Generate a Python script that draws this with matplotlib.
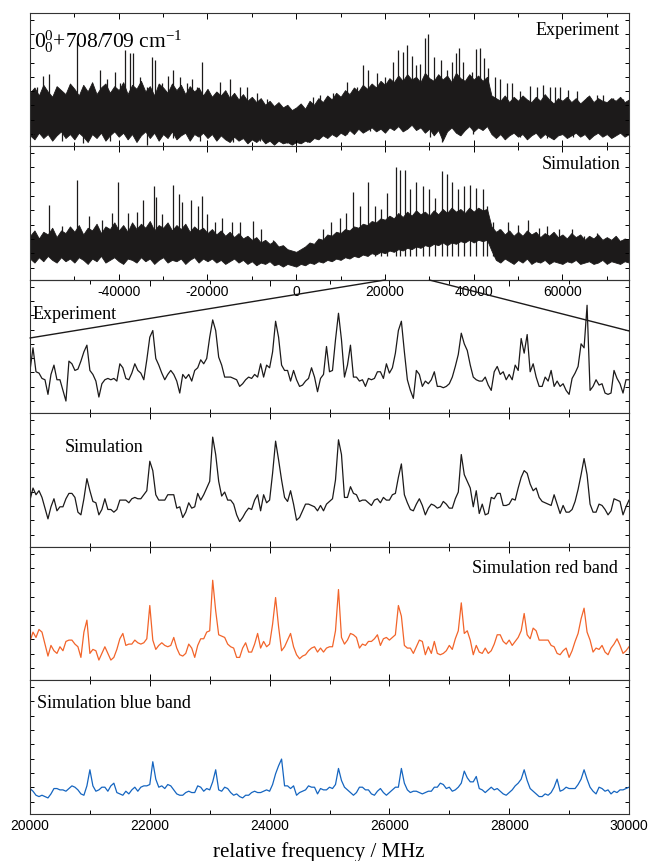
# stacked rotational spectrum: full band (top) and 20-30 GHz zoom (bottom)
import numpy as np
import matplotlib
matplotlib.use("Agg")
import matplotlib.pyplot as plt
from matplotlib.ticker import MultipleLocator, FixedLocator
from matplotlib.patches import ConnectionPatch

plt.rcParams["font.family"] = "Liberation Sans"
plt.rcParams["axes.unicode_minus"] = False
plt.rcParams["mathtext.fontset"] = "custom"
plt.rcParams["mathtext.rm"] = "Liberation Serif"
plt.rcParams["mathtext.it"] = "Liberation Serif:italic"

# ---- full band, 1000 MHz steps from -60000 to 75000: ragged top/bottom of the dense band ----
band_x = list(range(-60000, 75001, 1000))
exp_band_hi = [40, 44, 38, 46, 41, 37, 45, 42, 39, 47,
               43, 38, 46, 41, 48, 39, 44, 47, 40, 45,
               42, 48, 39, 46, 43, 49, 41, 45, 38, 47,
               44, 40, 47, 42, 46, 39, 45, 41, 44, 38,
               43, 37, 41, 38, 42, 36, 40, 35, 39, 34,
               37, 33, 36, 31, 34, 30, 33, 29, 31, 27,
               29, 32, 28, 34, 31, 36, 33, 38, 35, 40,
               37, 42, 39, 44, 41, 46, 43, 47, 44, 49,
               46, 51, 48, 53, 49, 54, 50, 52, 48, 55,
               51, 49, 54, 50, 53, 48, 55, 51, 49, 54,
               50, 53, 49, 52, 38, 36, 34, 38, 33, 37,
               34, 38, 35, 33, 37, 34, 39, 35, 32, 36,
               34, 37, 33, 36, 32, 35, 38, 33, 36, 34,
               33, 36, 34, 37, 33, 35]
exp_band_lo = [8, 5, 10, 6, 9, 4, 8, 11, 6, 9,
               5, 10, 7, 3, 9, 6, 10, 4, 8, 11,
               7, 10, 5, 9, 3, 8, 11, 6, 10, 4,
               9, 6, 11, 5, 8, 10, 4, 9, 7, 10,
               6, 9, 4, 8, 5, 3, 7, 4, 6, 2,
               5, 3, 6, 2, 4, 1, 4, 2, 3, 1,
               3, 2, 4, 3, 6, 5, 8, 6, 9, 7,
               10, 8, 12, 9, 13, 10, 12, 14, 11, 13,
               10, 14, 12, 15, 11, 13, 16, 12, 14, 10,
               13, 8, 12, 4, 11, 14, 10, 8, 12, 15,
               11, 14, 12, 15, 9, 6, 9, 5, 8, 10,
               7, 9, 5, 8, 10, 6, 9, 7, 5, 8,
               9, 6, 8, 10, 7, 9, 5, 8, 10, 7,
               9, 6, 8, 10, 7, 9]
sim_band_hi = [33, 37, 31, 36, 34, 39, 32, 37, 35, 40,
               36, 41, 34, 39, 37, 42, 35, 40, 38, 43,
               37, 41, 36, 43, 38, 42, 39, 44, 37, 41,
               39, 43, 37, 41, 38, 42, 36, 40, 37, 39,
               35, 38, 34, 37, 33, 36, 32, 35, 31, 33,
               30, 32, 28, 30, 27, 29, 25, 26, 23, 22,
               21, 23, 25, 28, 27, 31, 30, 34, 33, 36,
               35, 38, 37, 40, 39, 42, 41, 44, 43, 46,
               45, 48, 46, 50, 47, 51, 48, 52, 49, 51,
               48, 52, 49, 53, 50, 54, 51, 53, 50, 54,
               51, 54, 52, 53, 40, 36, 38, 34, 37, 33,
               36, 33, 37, 34, 36, 32, 35, 33, 36, 32,
               34, 31, 35, 32, 34, 30, 33, 31, 34, 30,
               32, 30, 33, 29, 31, 30]
sim_band_lo = [16, 13, 17, 14, 18, 15, 13, 17, 14, 16,
               13, 17, 15, 12, 16, 14, 18, 13, 15, 17,
               14, 12, 16, 15, 13, 17, 14, 16, 12, 15,
               17, 13, 15, 14, 16, 12, 15, 17, 13, 16,
               14, 16, 13, 15, 12, 14, 16, 13, 15, 12,
               14, 11, 13, 12, 14, 11, 12, 10, 12, 11,
               10, 12, 11, 13, 12, 14, 13, 15, 14, 16,
               15, 17, 16, 18, 17, 19, 18, 20, 19, 21,
               20, 22, 21, 23, 22, 24, 23, 25, 24, 26,
               25, 27, 26, 28, 26, 28, 27, 29, 28, 30,
               28, 30, 29, 30, 22, 15, 13, 16, 14, 12,
               15, 13, 16, 12, 14, 13, 15, 12, 14, 13,
               12, 14, 13, 15, 12, 13, 14, 12, 13, 15,
               12, 14, 13, 12, 14, 13]

# strongest single lines above the band
exp_spk_x = [-58400, -57070, -55720, -53910, -51660, -49400, -46480, -44220, -42640, -40840,
             -39710, -38590, -37460, -36780, -35210, -33630, -32500, -31820, -30250, -28890,
             -27770, -26190, -24610, -23490, -22360, -21230, -20100, -17170, -14920, -12670,
             -11090, -8830, -6580, -3650, -720, 3790, 5370, 8300, 11450, 13710,
             15060, 16190, 18210, 20020, 21820, 22950, 24070, 24980, 26100, 27000,
             27910, 29030, 29710, 31060, 32640, 33990, 35120, 36020, 36700, 37600,
             39630, 40530, 41430, 42330, 43230, 44810, 45940, 47520, 48640, 50450,
             52700, 54280, 55630, 57210, 58340, 59460, 61270, 63290, 65550, 67800,
             69150, 71410, 73660]
exp_spk_top = [44, 53, 54, 44, 40, 78, 37, 57, 50, 56, 47, 72, 70, 70, 52, 44, 67, 65, 47, 53,
               57, 52, 47, 50, 44, 63, 42, 48, 50, 44, 44, 40, 35, 29, 25, 37, 38, 40, 48, 44,
               61, 57, 55, 52, 63, 72, 71, 76, 68, 61, 62, 81, 84, 67, 65, 57, 63, 70, 74, 63,
               56, 73, 74, 66, 59, 52, 50, 47, 47, 41, 45, 44, 46, 44, 44, 44, 42, 41, 37, 38,
               38, 36, 35]
exp_dip_x = [-59250, -52860, -47990, -41970, -33700, -27700, -21680, -14170, -8160, -2140,
             2370, 11380, 16640, 20400, 30160, 32790, 36920, 39920, 45190, 50450,
             56460, 62460, 66970, 71480, 74120]
exp_dip_y = [7, 4, 2, 4, 1, 6, 4, 3, 4, 2, 3, 9, 11, 12, 7, 3, 8, 9, 7, 7, 6, 7, 8, 7, 9]

sim_spk_x = [-55740, -52760, -49490, -46690, -43880, -41550, -40150, -37820, -35950, -34550,
             -32030, -31650, -30340, -27730, -26420, -25670, -23620, -22130, -21300, -20080,
             -18210, -16810, -14470, -12600, -9800, -7930, -5140, 4190, 6060, 7940,
             9810, 11200, 12780, 14470, 16160, 17740, 19140, 20540, 22410, 23350,
             24550, 25670, 27070, 28470, 29870, 31290, 32950, 33900, 35010, 36410,
             37820, 39220, 40620, 42020, 42940, 44360, 45760, 47630, 49950, 52290,
             54620, 56490, 59280, 62100, 64890, 67690, 70510, 73300]
sim_spk_top = [56, 40, 75, 48, 45, 50, 73, 50, 51, 60, 70, 62, 49, 71, 64, 58, 60, 55, 63, 49,
               43, 46, 43, 43, 44, 38, 30, 25, 38, 43, 46, 50, 66, 55, 73, 55, 53, 65, 84, 82,
               82, 68, 73, 70, 68, 61, 81, 79, 73, 68, 70, 71, 69, 68, 55, 43, 38, 43, 41, 45,
               39, 40, 38, 38, 33, 35, 30, 30]

# ---- 20000-30000 MHz zoom, 50 MHz steps ----
zoom_exp = [32, 49, 31, 30, 26, 25, 14, 29, 36, 25, 25, 17, 9, 39, 37, 32, 33, 39, 46, 51,
            32, 29, 24, 12, 22, 25, 26, 25, 26, 24, 37, 34, 26, 25, 30, 37, 32, 30, 25, 40,
            57, 62, 41, 36, 30, 25, 29, 32, 29, 24, 15, 29, 26, 29, 24, 32, 34, 40, 37, 41,
            57, 70, 62, 42, 36, 27, 27, 27, 26, 25, 20, 22, 25, 27, 26, 29, 27, 37, 27, 36,
            34, 46, 69, 57, 36, 32, 32, 24, 32, 25, 20, 21, 24, 26, 34, 27, 16, 26, 29, 50,
            31,
            32, 55, 75, 55, 27, 36, 51, 27, 27, 24, 25, 20, 26, 25, 26, 31, 31, 26, 37, 30,
            34, 45, 62, 69, 46, 25, 17, 11, 32, 29, 20, 24, 22, 25, 31, 20, 20, 19, 20, 22,
            27, 35, 44, 60, 52, 47, 36, 27, 25, 24, 24, 27, 21, 17, 31, 35, 29, 31, 25, 29,
            25, 36, 32, 56, 45, 59, 31, 37, 27, 20, 20, 27, 24, 32, 20, 24, 20, 22, 17, 14,
            26, 30, 35, 52, 49, 81, 17, 20, 25, 21, 22, 15, 14, 15, 32, 26, 22, 15, 25, 25]
zoom_sim = [35, 44, 39, 42, 37, 29, 21, 30, 36, 27, 30, 30, 36, 40, 40, 37, 26, 24, 36, 51,
            42, 34, 33, 24, 28, 36, 28, 28, 26, 28, 35, 35, 35, 33, 36, 37, 36, 36, 39, 42,
            64, 57, 39, 35, 35, 35, 39, 39, 39, 29, 30, 22, 26, 33, 29, 30, 40, 35, 39, 44,
            49, 82, 69, 49, 38, 41, 35, 35, 32, 24, 19, 22, 26, 29, 28, 35, 39, 27, 39, 33,
            35, 55, 79, 65, 50, 37, 34, 42, 32, 20, 22, 27, 32, 32, 31, 30, 27, 31, 27, 32,
            34,
            36, 50, 80, 69, 37, 37, 45, 40, 39, 34, 35, 35, 33, 31, 35, 36, 33, 37, 35, 35,
            39, 40, 52, 62, 39, 33, 28, 27, 32, 36, 31, 24, 29, 32, 31, 29, 30, 34, 32, 29,
            29, 36, 41, 69, 54, 49, 44, 30, 42, 25, 32, 24, 25, 37, 36, 40, 40, 31, 31, 32,
            36, 35, 44, 52, 57, 55, 47, 42, 44, 37, 34, 33, 32, 31, 39, 32, 25, 31, 26, 26,
            28, 34, 43, 54, 66, 54, 32, 26, 26, 32, 31, 28, 24, 27, 36, 35, 34, 24, 30, 35]
zoom_red = [29, 36, 32, 38, 36, 27, 18, 26, 22, 20, 25, 22, 29, 30, 30, 27, 25, 17, 36, 45,
            20, 23, 22, 15, 20, 25, 20, 15, 17, 23, 31, 35, 26, 27, 27, 30, 28, 27, 28, 31,
            56, 30, 23, 26, 28, 26, 25, 26, 32, 24, 19, 18, 20, 27, 24, 17, 26, 31, 31, 36,
            37, 75, 52, 34, 33, 32, 27, 25, 24, 17, 17, 24, 28, 21, 21, 27, 35, 24, 29, 25,
            27, 42, 62, 40, 22, 25, 30, 35, 25, 19, 16, 18, 19, 22, 24, 25, 21, 24, 21, 24,
            25,
            25, 37, 68, 32, 27, 30, 35, 34, 32, 24, 27, 26, 29, 29, 31, 34, 26, 31, 32, 30,
            32, 34, 56, 48, 26, 24, 24, 20, 25, 30, 29, 19, 25, 20, 29, 20, 19, 20, 22, 26,
            23, 31, 37, 58, 35, 37, 30, 19, 26, 21, 20, 24, 20, 22, 27, 34, 34, 29, 27, 30,
            26, 29, 32, 37, 50, 34, 31, 39, 37, 30, 30, 30, 30, 26, 25, 20, 19, 22, 24, 17,
            22, 29, 35, 46, 54, 36, 30, 21, 24, 23, 26, 21, 19, 24, 27, 31, 26, 20, 22, 25]
zoom_blue = [19, 17, 14, 13, 14, 13, 12, 15, 19, 19, 18, 18, 17, 19, 21, 20, 18, 15, 14, 21,
             33, 21, 17, 18, 20, 20, 17, 21, 23, 16, 15, 14, 17, 15, 18, 20, 17, 20, 21, 21,
             22, 39, 26, 20, 21, 19, 22, 21, 18, 15, 14, 14, 16, 17, 16, 16, 21, 20, 17, 19,
             18, 24, 33, 18, 17, 20, 19, 16, 14, 15, 13, 12, 14, 14, 16, 17, 16, 16, 17, 18,
             17, 22, 30, 36, 41, 21, 21, 19, 21, 14, 16, 17, 18, 21, 20, 20, 15, 19, 18, 18,
             20, 19, 22, 34, 25, 20, 18, 16, 14, 16, 20, 20, 18, 18, 15, 14, 17, 19, 16, 14,
             16, 18, 20, 20, 34, 23, 18, 16, 17, 17, 16, 15, 16, 17, 17, 20, 20, 23, 22, 19,
             20, 17, 18, 20, 23, 32, 27, 24, 24, 28, 19, 18, 16, 18, 20, 18, 19, 17, 15, 14,
             16, 18, 21, 23, 26, 33, 25, 19, 17, 15, 13, 13, 15, 14, 16, 20, 26, 17, 18, 20,
             19, 19, 19, 22, 26, 33, 26, 20, 17, 15, 20, 19, 17, 18, 15, 17, 16, 18, 18, 19,
             20]

full_ticks = [-40000, -20000, 0, 20000, 40000, 60000]

BLACK = "#1c1a1a"
RED = "#f2642a"
BLUE = "#1565c0"
SERIF = "Liberation Serif"


def style_axis(ax, full):
    ax.set_ylim(0, 100)
    ax.yaxis.set_major_locator(MultipleLocator(10.7, offset=9.2))
    ax.tick_params(axis="y", which="both", direction="in", left=True, right=True,
                   labelleft=False, length=3, width=0.7)
    if full:
        ax.set_xlim(-60000, 75000)
        ax.xaxis.set_major_locator(FixedLocator(full_ticks))
        ax.xaxis.set_minor_locator(MultipleLocator(10000))
    else:
        ax.set_xlim(20000, 30000)
        ax.xaxis.set_major_locator(MultipleLocator(2000))
        ax.xaxis.set_minor_locator(MultipleLocator(1000))
    ax.tick_params(axis="x", which="both", direction="in", top=True, bottom=True,
                   labelbottom=False, labelsize=10, width=0.7)
    ax.tick_params(axis="x", which="major", length=4)
    ax.tick_params(axis="x", which="minor", length=3)
    for s in ax.spines.values():
        s.set_linewidth(0.8)
        s.set_color("#333333")


W, H = 651, 861
edges = [13, 146, 280, 413, 547, 680, 814]
fig = plt.figure(figsize=(W / 100, H / 100), dpi=100)
axes = []
for i in range(6):
    rect = [30 / W, 1 - edges[i + 1] / H, 599 / W, (edges[i + 1] - edges[i]) / H]
    axes.append(fig.add_axes(rect))
ax1, ax2, ax3, ax4, ax5, ax6 = axes

# top: experiment full band
ax1.fill_between(band_x, exp_band_lo, exp_band_hi, color=BLACK, lw=0.6)
ax1.vlines(exp_spk_x, 20, exp_spk_top, color=BLACK, lw=0.9)
ax1.vlines(exp_dip_x, exp_dip_y, 15, color=BLACK, lw=0.9)
style_axis(ax1, True)
ax1.text(0.985, 0.865, "Experiment", transform=ax1.transAxes, ha="right", va="center",
         fontfamily=SERIF, fontsize=13)
ax1.text(0.007, 0.737, r"$\mathrm{0^0_0}$+708/709 cm$\mathrm{^{-1}}$", transform=ax1.transAxes,
         ha="left", va="baseline", fontfamily=SERIF, fontsize=15.5)

# simulation full band
ax2.fill_between(band_x, sim_band_lo, sim_band_hi, color=BLACK, lw=0.6)
ax2.vlines(sim_spk_x, 18, sim_spk_top, color=BLACK, lw=0.9)
style_axis(ax2, True)
ax2.tick_params(axis="x", labelbottom=True, labelsize=10)
ax2.text(0.985, 0.865, "Simulation", transform=ax2.transAxes, ha="right", va="center",
         fontfamily=SERIF, fontsize=13)

# zoomed panels
freq = np.linspace(20000, 30000, len(zoom_exp))
ax3.plot(freq, zoom_exp, color=BLACK, lw=0.9)
ax4.plot(freq, zoom_sim, color=BLACK, lw=0.9)
ax5.plot(freq, zoom_red, color=RED, lw=0.9)
ax6.plot(freq, zoom_blue, color=BLUE, lw=0.9)
for ax in (ax3, ax4, ax5, ax6):
    style_axis(ax, False)
ax3.patch.set_alpha(0)
ax6.tick_params(axis="x", labelbottom=True, labelsize=10)

ax3.text(0.005, 0.737, "Experiment", transform=ax3.transAxes, ha="left", va="center",
         fontfamily=SERIF, fontsize=13)
ax4.text(0.058, 0.739, "Simulation", transform=ax4.transAxes, ha="left", va="center",
         fontfamily=SERIF, fontsize=13)
ax5.text(0.981, 0.837, "Simulation red band", transform=ax5.transAxes, ha="right",
         va="center", fontfamily=SERIF, fontsize=13)
ax6.text(0.011, 0.826, "Simulation blue band", transform=ax6.transAxes, ha="left",
         va="center", fontfamily=SERIF, fontsize=13)

fig.text(318.5 / W, 1 - 852 / H, "relative frequency / MHz", ha="center", va="center",
         fontfamily=SERIF, fontsize=15)

# zoom connector lines
for xa, yb, xb in [(20000, 0.564, 0), (30000, 0.617, 1)]:
    con = ConnectionPatch(xyA=(xa, 0), coordsA=ax2.transData, xyB=(xb, yb),
                          coordsB=ax3.transAxes, color=BLACK, lw=1.0)
    con.set_zorder(5)
    fig.add_artist(con)

fig.savefig("out.png", dpi=100)
